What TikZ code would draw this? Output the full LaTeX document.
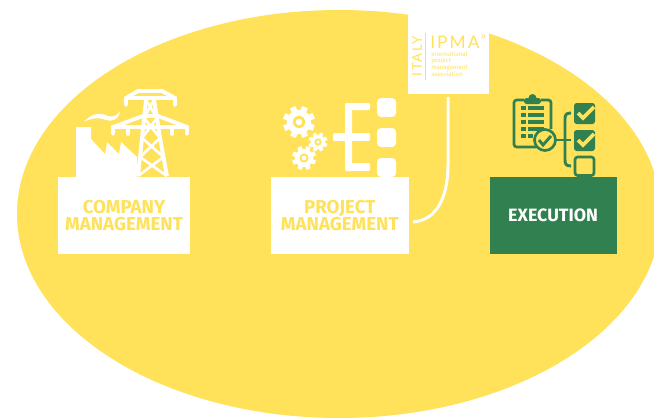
\documentclass[tikz,border=0pt]{standalone}
\usepackage{fontspec}
\setsansfont{Fira Sans}
\newfontfamily\ipmafont[LetterSpace=12]{Lato}
\usetikzlibrary{positioning}

\definecolor{sunyellow}{HTML}{FFE15A}
\definecolor{leafgreen}{HTML}{31804F}

% one gear: centre x, centre y, outer radius
\newcommand{\geardraw}[3]{%
  \foreach \a in {0,45,...,315}
    \draw[white,line width=#3*0.28pt] (#1,#2) -- ++(\a+22:#3);
  \fill[white] (#1,#2) circle (#3*0.76);
  \fill[sunyellow] (#1,#2) circle (#3*0.38);
  \fill[white] (#1,#2) circle (#3*0.2);
}

\begin{document}
\begin{tikzpicture}[%
    x=0.75pt, y=-0.75pt,
    node distance=60.2pt,
    ]
% -------------------------------------------------
% A few styles
\tikzset{
  base/.style={inner sep=0pt, minimum height=57.75pt, align=center,
    font=\sffamily\bfseries\fontsize{14}{13}\selectfont},
  box/.style={base, fill=white, text=sunyellow},
  wire/.style={draw=white, line width=2.9pt},
  thin wire/.style={draw=white, line width=2pt},
  tree/.style={fill=white, rounded corners=1pt},
  leaf/.style={draw=leafgreen, line width=2pt, rounded corners=2pt},
  tick/.style={draw=sunyellow, line width=2.8pt}
}
\useasboundingbox (0,0) rectangle (654,418);
\clip (0,0) rectangle (654,418);
\fill[sunyellow] (339,214) ellipse (322 and 204);
% -------------------------------------------------
% Start by placing the nodes
\node [box, minimum width=99pt] (company) at (124,215.5) {COMPANY\\MANAGEMENT};
\node [box, minimum width=103.5pt, right = of company] (project) {PROJECT\\MANAGEMENT};
\node [base, fill=leafgreen, text=white, minimum width=95.25pt, font=\sffamily\bfseries\fontsize{13.4}{13}\selectfont, right = of project] (execution) {EXECUTION};
\node [fill=white, inner sep=0pt, minimum width=60.75pt, minimum height=63pt] (ipma) at (448.5,52) {};

% IPMA logo
\node [rotate=90, text=sunyellow, inner sep=0pt, font=\ipmafont\fontsize{10}{10}\selectfont] (italy) at (417,56) {ITALY};
\node [anchor=west, inner sep=0pt, text=sunyellow, font=\ipmafont\fontsize{13}{13}\selectfont] (logo) at (430,42) {IPMA};
\node [inner sep=0pt, text=sunyellow, font=\sffamily\fontsize{7}{7}\selectfont] (mark) at (483.5,37) {»};
\node [inner sep=0pt, anchor=north west, align=left, text=sunyellow, font=\sffamily\fontsize{4.6}{5.1}\selectfont] (words) at (431,51) {international\\project\\management\\association};
\draw[sunyellow, line width=0.5pt] (425,33) -- (425,80);

% connector
\coordinate (ipmaend) at (448,97);
\coordinate (projectend) at (413,222);
\draw[draw=white, line width=2.25pt] (ipmaend) -- (448,165) .. controls (448,195) and (438,220) .. (projectend);

% -------------------------------------------------
% Factory and pylon
\fill[white] (76,177) -- (76,127) -- (91,127) -- (91,139) -- (105,154) -- (107,142)
  -- (119,154) -- (121,142) -- (137,157) -- (137,177) -- cycle;
\fill[white] (84,122) .. controls (92,112) and (102,113) .. (108,116)
  .. controls (113,118) and (118,115) .. (120,111)
  .. controls (119,120) and (112,122) .. (106,120)
  .. controls (98,117) and (91,118) .. (84,122) -- cycle;
\foreach \ya/\la/\ra/\yb/\lb/\rb in {
    100/146/154/118/144/157,
    118/144/157/138/142/160,
    138/142/160/157/140/163.5,
    157/140/163.5/176/138/167}{
  \fill[sunyellow] (\la,\ya) -- (\ra,\ya) -- (\rb,\yb) -- (\lb,\yb) -- cycle;
  \draw[wire] (\la,\ya) -- (\lb,\yb) (\ra,\ya) -- (\rb,\yb);
  \draw[thin wire] (\la,\ya) -- (\rb,\yb) (\ra,\ya) -- (\lb,\yb);
}
\draw[wire, line cap=round] (126,105) -- (126,98) -- (138,91) -- (162,91) -- (175,98) -- (175,105);
\draw[wire] (126,98) -- (175,98);
\draw[wire, line cap=round] (113,134) -- (113,127) -- (143,116) -- (158,116) -- (187,127) -- (187,134);
\draw[wire] (113,127) -- (187,127);
\foreach \x in {128,172}
  \draw[wire, line cap=round] (\x,127) -- (\x,134);

% -------------------------------------------------
% Gears and tree
\geardraw{299}{122}{16}
\geardraw{318}{142}{9.5}
\geardraw{304}{158}{12}
\fill[tree] (345,103) rectangle (370,110);
\fill[tree] (345,103) rectangle (352,171);
\fill[tree] (333,133) rectangle (370,141);
\fill[tree] (345,163) rectangle (370,171);
\foreach \y in {98,128,158}
  \fill[white, rounded corners=3pt] (377,\y) rectangle (396,\y+19);

% -------------------------------------------------
% Clipboard and check list
\draw[leaf] (524,100) -- (514,100) -- (514,147) -- (536,147);
\draw[leaf] (541,100) -- (551,100) -- (551,129);
\fill[leafgreen, rounded corners=2pt] (524,104) rectangle (541,98);
\fill[leafgreen] (532.5,98) circle (4);
\foreach \y in {108,115,122,129}{
  \fill[leafgreen] (521,\y-2) rectangle (526,\y+2);
  \fill[leafgreen] (528,\y-2) rectangle (544,\y+2);
}
\fill[leafgreen] (521,134) rectangle (526,138);
\fill[leafgreen] (528,134) rectangle (533,138);
\draw[leaf, fill=sunyellow] (545,140) circle (10.5);
\draw[draw=leafgreen, line width=2.2pt] (539,140) -- (543,145) -- (551,136);
\draw[leaf, line width=2.2pt] (556,140) -- (571,140);
\draw[draw=leafgreen, line width=2.2pt] (571,113) .. controls (566,113) and (565,115) .. (565,119)
  -- (565,160) .. controls (565,164) and (566,166) .. (571,166);
\fill[leafgreen, rounded corners=2pt] (574,103) rectangle (595,124);
\fill[leafgreen, rounded corners=2pt] (574,130) rectangle (595,151);
\draw[leaf] (575,157) rectangle (594,175.5);
\foreach \y in {103,130}
  \draw[tick] (578,\y+10) -- (583,\y+15) -- (594,\y+4);

% -------------------------------------------------
\end{tikzpicture}
\end{document}
